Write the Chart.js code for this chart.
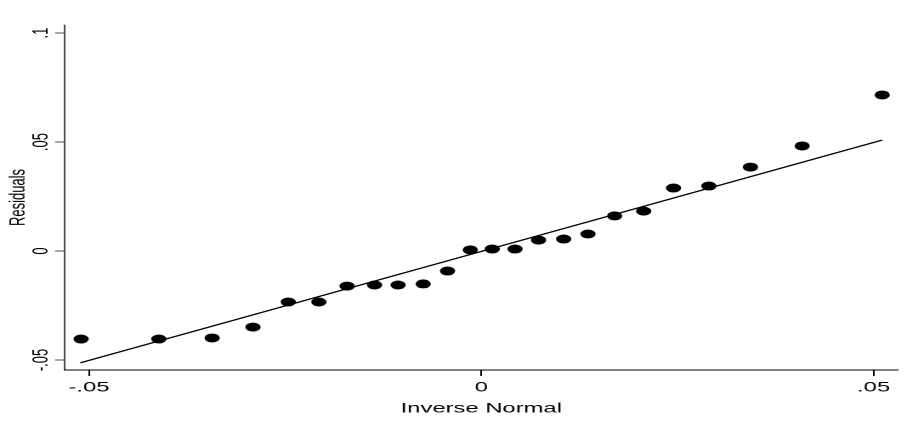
<!DOCTYPE html>
<html>
<head>
<meta charset="utf-8">
<script src="https://cdn.jsdelivr.net/npm/chart.js@4.4.1/dist/chart.umd.min.js"></script>
<style>
  html, body { margin: 0; padding: 0; background: #fff; overflow: hidden; }
  /* the reference is stretched sideways, so the chart is drawn narrow and widened */
  #wrap { width: 533px; height: 424px; transform-origin: 0 0; transform: scaleX(1.7); }
</style>
</head>
<body>
<div id="wrap"><canvas id="qplot"></canvas></div>
<script>
// inverse normal quantiles (x) and sorted residuals (y)
const invNormal = [-0.0510, -0.0411, -0.0343, -0.0291, -0.0246, -0.0207, -0.0171, -0.0136,
  -0.0106, -0.0074, -0.0043, -0.0014, 0.0014, 0.0043, 0.0073, 0.0105,
  0.0136, 0.0170, 0.0207, 0.0245, 0.0290, 0.0343, 0.0409, 0.0511];
const residuals = [-0.0404, -0.0404, -0.0399, -0.0349, -0.0234, -0.0234, -0.0161, -0.0156,
  -0.0156, -0.0151, -0.0092, 0.0005, 0.0009, 0.0009, 0.0050, 0.0055,
  0.0078, 0.0161, 0.0183, 0.0289, 0.0298, 0.0385, 0.0482, 0.0716];

// reference line end points
const lineX = [-0.0511, 0.0511];
const lineY = [-0.0513, 0.0509];

const xTicks = [-0.05, 0, 0.05];
const xTickLabels = ['-.05', '0', '.05'];
const yTicks = [-0.05, 0, 0.05, 0.1];
const yTickLabels = ['-.05', '0', '.05', '.1'];

const font = "'Liberation Sans', Arial, sans-serif";

const points = invNormal.map((v, i) => ({ x: v, y: residuals[i] }));
const refLine = lineX.map((v, i) => ({ x: v, y: lineY[i] }));

// y tick labels are rotated, chart.js can't center those on a left axis
const rotatedYLabels = {
  id: 'rotatedYLabels',
  afterDraw(chart) {
    const ctx = chart.ctx;
    const yScale = chart.scales.y;
    ctx.save();
    ctx.fillStyle = '#000';
    ctx.font = '13px ' + font;
    ctx.textAlign = 'center';
    ctx.textBaseline = 'alphabetic';
    yTicks.forEach((v, i) => {
      const py = yScale.getPixelForValue(v);
      ctx.save();
      ctx.translate(yScale.right - 10, py);
      ctx.rotate(-Math.PI / 2);
      ctx.fillText(yTickLabels[i], 0, 0);
      ctx.restore();
    });
    ctx.restore();
  }
};

new Chart(document.getElementById('qplot'), {
  type: 'scatter',
  data: {
    datasets: [
      {
        data: points,
        backgroundColor: '#000',
        borderColor: '#000',
        pointRadius: 4.5,
        pointBorderWidth: 0
      },
      {
        data: refLine,
        showLine: true,
        borderColor: '#000',
        borderWidth: 1.3,
        pointRadius: 0
      }
    ]
  },
  options: {
    responsive: true,
    maintainAspectRatio: false,
    animation: false,
    devicePixelRatio: 2,
    layout: { padding: { top: 25, right: 5, left: 0, bottom: 0 } },
    plugins: { legend: { display: false }, tooltip: { enabled: false } },
    scales: {
      x: {
        type: 'linear',
        min: -0.05306,
        max: 0.05306,
        afterBuildTicks: s => { s.ticks = xTicks.map(v => ({ value: v })); },
        afterFit: s => { s.height = 54; },
        grid: { drawOnChartArea: false, drawTicks: true, tickLength: 6, color: '#000', lineWidth: 1 },
        border: { display: true, color: '#000', width: 1 },
        ticks: {
          color: '#000',
          font: { family: font, size: 14 },
          padding: 3,
          maxRotation: 0,
          callback: (v, i) => xTickLabels[i]
        },
        title: {
          display: true,
          text: 'Inverse Normal',
          color: '#000',
          font: { family: font, size: 14 },
          padding: { top: 0, bottom: 7 }
        }
      },
      y: {
        type: 'linear',
        min: -0.0546,
        max: 0.1037,
        afterBuildTicks: s => { s.ticks = yTicks.map(v => ({ value: v })); },
        afterFit: s => { s.width = 38.2; },
        grid: { drawOnChartArea: false, drawTicks: true, tickLength: 5.9, color: '#000', lineWidth: 0.7 },
        border: { display: true, color: '#000', width: 0.7 },
        ticks: { display: false },
        title: {
          display: true,
          text: 'Residuals',
          color: '#000',
          font: { family: font, size: 13 },
          padding: { top: 3, bottom: 0 }
        }
      }
    }
  },
  plugins: [rotatedYLabels]
});
</script>
</body>
</html>
